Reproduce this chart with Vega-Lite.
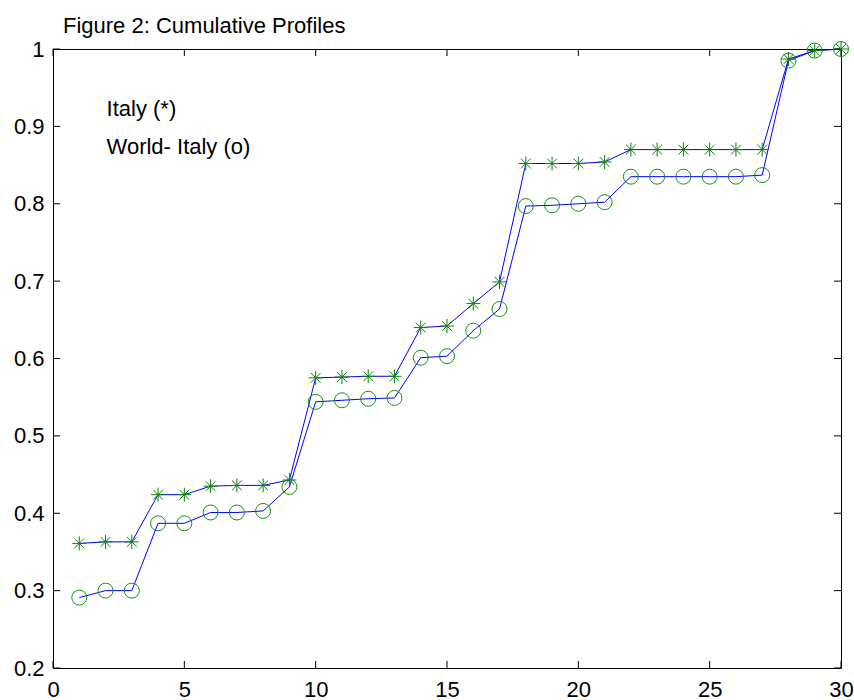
{
  "$schema": "https://vega.github.io/schema/vega-lite/v6.json",
  "autosize": "none",
  "width": 788,
  "height": 619,
  "padding": {"left": 53, "top": 49, "right": 13, "bottom": 32},
  "background": "white",
  "title": {
    "text": "Figure 2: Cumulative Profiles",
    "anchor": "start",
    "frame": "group",
    "dx": 10,
    "offset": -17,
    "baseline": "alphabetic",
    "font": "Liberation Sans",
    "fontSize": 22,
    "fontWeight": "normal",
    "color": "black"
  },
  "datasets": {
    "profiles": [
      {"x": 1, "y": 0.361, "series": "Italy"},
      {"x": 2, "y": 0.363, "series": "Italy"},
      {"x": 3, "y": 0.363, "series": "Italy"},
      {"x": 4, "y": 0.424, "series": "Italy"},
      {"x": 5, "y": 0.424, "series": "Italy"},
      {"x": 6, "y": 0.435, "series": "Italy"},
      {"x": 7, "y": 0.436, "series": "Italy"},
      {"x": 8, "y": 0.436, "series": "Italy"},
      {"x": 9, "y": 0.443, "series": "Italy"},
      {"x": 10, "y": 0.575, "series": "Italy"},
      {"x": 11, "y": 0.576, "series": "Italy"},
      {"x": 12, "y": 0.577, "series": "Italy"},
      {"x": 13, "y": 0.577, "series": "Italy"},
      {"x": 14, "y": 0.640, "series": "Italy"},
      {"x": 15, "y": 0.642, "series": "Italy"},
      {"x": 16, "y": 0.671, "series": "Italy"},
      {"x": 17, "y": 0.699, "series": "Italy"},
      {"x": 18, "y": 0.852, "series": "Italy"},
      {"x": 19, "y": 0.852, "series": "Italy"},
      {"x": 20, "y": 0.852, "series": "Italy"},
      {"x": 21, "y": 0.854, "series": "Italy"},
      {"x": 22, "y": 0.870, "series": "Italy"},
      {"x": 23, "y": 0.870, "series": "Italy"},
      {"x": 24, "y": 0.870, "series": "Italy"},
      {"x": 25, "y": 0.870, "series": "Italy"},
      {"x": 26, "y": 0.870, "series": "Italy"},
      {"x": 27, "y": 0.870, "series": "Italy"},
      {"x": 28, "y": 0.987, "series": "Italy"},
      {"x": 29, "y": 0.998, "series": "Italy"},
      {"x": 30, "y": 1.0, "series": "Italy"},
      {"x": 1, "y": 0.291, "series": "World- Italy"},
      {"x": 2, "y": 0.300, "series": "World- Italy"},
      {"x": 3, "y": 0.300, "series": "World- Italy"},
      {"x": 4, "y": 0.387, "series": "World- Italy"},
      {"x": 5, "y": 0.387, "series": "World- Italy"},
      {"x": 6, "y": 0.401, "series": "World- Italy"},
      {"x": 7, "y": 0.401, "series": "World- Italy"},
      {"x": 8, "y": 0.403, "series": "World- Italy"},
      {"x": 9, "y": 0.434, "series": "World- Italy"},
      {"x": 10, "y": 0.544, "series": "World- Italy"},
      {"x": 11, "y": 0.546, "series": "World- Italy"},
      {"x": 12, "y": 0.548, "series": "World- Italy"},
      {"x": 13, "y": 0.549, "series": "World- Italy"},
      {"x": 14, "y": 0.601, "series": "World- Italy"},
      {"x": 15, "y": 0.603, "series": "World- Italy"},
      {"x": 16, "y": 0.636, "series": "World- Italy"},
      {"x": 17, "y": 0.664, "series": "World- Italy"},
      {"x": 18, "y": 0.797, "series": "World- Italy"},
      {"x": 19, "y": 0.798, "series": "World- Italy"},
      {"x": 20, "y": 0.800, "series": "World- Italy"},
      {"x": 21, "y": 0.802, "series": "World- Italy"},
      {"x": 22, "y": 0.835, "series": "World- Italy"},
      {"x": 23, "y": 0.835, "series": "World- Italy"},
      {"x": 24, "y": 0.835, "series": "World- Italy"},
      {"x": 25, "y": 0.835, "series": "World- Italy"},
      {"x": 26, "y": 0.835, "series": "World- Italy"},
      {"x": 27, "y": 0.837, "series": "World- Italy"},
      {"x": 28, "y": 0.985, "series": "World- Italy"},
      {"x": 29, "y": 0.998, "series": "World- Italy"},
      {"x": 30, "y": 1.0, "series": "World- Italy"}
    ],
    "ticks": [
      {"x": 0, "y": 0.2, "side": "bottom"}, {"x": 5, "y": 0.2, "side": "bottom"}, {"x": 10, "y": 0.2, "side": "bottom"},
      {"x": 15, "y": 0.2, "side": "bottom"}, {"x": 20, "y": 0.2, "side": "bottom"}, {"x": 25, "y": 0.2, "side": "bottom"},
      {"x": 30, "y": 0.2, "side": "bottom"},
      {"x": 0, "y": 1, "side": "top"}, {"x": 5, "y": 1, "side": "top"}, {"x": 10, "y": 1, "side": "top"},
      {"x": 15, "y": 1, "side": "top"}, {"x": 20, "y": 1, "side": "top"}, {"x": 25, "y": 1, "side": "top"},
      {"x": 30, "y": 1, "side": "top"},
      {"x": 0, "y": 0.2, "side": "left"}, {"x": 0, "y": 0.3, "side": "left"}, {"x": 0, "y": 0.4, "side": "left"},
      {"x": 0, "y": 0.5, "side": "left"}, {"x": 0, "y": 0.6, "side": "left"}, {"x": 0, "y": 0.7, "side": "left"},
      {"x": 0, "y": 0.8, "side": "left"}, {"x": 0, "y": 0.9, "side": "left"}, {"x": 0, "y": 1, "side": "left"},
      {"x": 30, "y": 0.2, "side": "right"}, {"x": 30, "y": 0.3, "side": "right"}, {"x": 30, "y": 0.4, "side": "right"},
      {"x": 30, "y": 0.5, "side": "right"}, {"x": 30, "y": 0.6, "side": "right"}, {"x": 30, "y": 0.7, "side": "right"},
      {"x": 30, "y": 0.8, "side": "right"}, {"x": 30, "y": 0.9, "side": "right"}, {"x": 30, "y": 1, "side": "right"}
    ]
  },
  "data": {"name": "profiles"},
  "encoding": {
    "x": {
      "field": "x", "type": "quantitative",
      "scale": {"domain": [0, 30], "nice": false, "zero": false}
    },
    "y": {
      "field": "y", "type": "quantitative",
      "scale": {"domain": [0.2, 1], "nice": false, "zero": false}
    }
  },
  "layer": [
    {
      "mark": {"type": "line", "color": "#0000ff", "strokeWidth": 1, "clip": false},
      "encoding": {
        "x": {
          "field": "x", "type": "quantitative",
          "axis": {"orient": "bottom", "values": [0, 5, 10, 15, 20, 25, 30], "ticks": false, "labelPadding": 11}
        },
        "y": {
          "field": "y", "type": "quantitative",
          "axis": {"orient": "left", "values": [0.2, 0.3, 0.4, 0.5, 0.6, 0.7, 0.8, 0.9, 1], "format": "~g", "ticks": false, "labelPadding": 9}
        },
        "detail": {"field": "series"}
      }
    },
    {
      "data": {"name": "ticks"},
      "mark": {"type": "point", "filled": false, "stroke": "black", "strokeWidth": 1, "size": 196, "opacity": 1, "clip": false},
      "encoding": {
        "shape": {
          "field": "side", "type": "nominal",
          "scale": {
            "domain": ["bottom", "top", "left", "right"],
            "range": ["M0,0L0,-1", "M0,0L0,1", "M0,0L1,0", "M0,0L-1,0"]
          },
          "legend": null
        }
      }
    },
    {
      "transform": [{"filter": "datum.series === 'World- Italy'"}],
      "mark": {"type": "point", "shape": "circle", "filled": false, "stroke": "#139213", "strokeWidth": 1, "size": 225, "opacity": 1, "clip": false}
    },
    {
      "transform": [{"filter": "datum.series === 'Italy'"}],
      "mark": {"type": "point", "shape": "M0,-1L0,1M-1,0L1,0M-0.7,-0.7L0.7,0.7M-0.7,0.7L0.7,-0.7", "filled": false, "stroke": "#0f800f", "strokeWidth": 1, "size": 196, "opacity": 1, "clip": false}
    },
    {
      "data": {
        "values": [
          {"label": "Italy (*)", "x": 2, "y": 0.9135},
          {"label": "World- Italy (o)", "x": 2, "y": 0.8645}
        ]
      },
      "mark": {"type": "text", "align": "left", "baseline": "alphabetic", "dx": 1, "font": "Liberation Sans", "fontSize": 22, "color": "black"},
      "encoding": {
        "text": {"field": "label"}
      }
    }
  ],
  "config": {
    "view": {"stroke": "black", "strokeWidth": 1},
    "axis": {
      "grid": false,
      "title": null,
      "domain": false,
      "labelFont": "Liberation Sans",
      "labelFontSize": 22,
      "labelColor": "black",
      "labelFlush": false,
      "labelOverlap": false,
      "labelBound": false
    }
  }
}
